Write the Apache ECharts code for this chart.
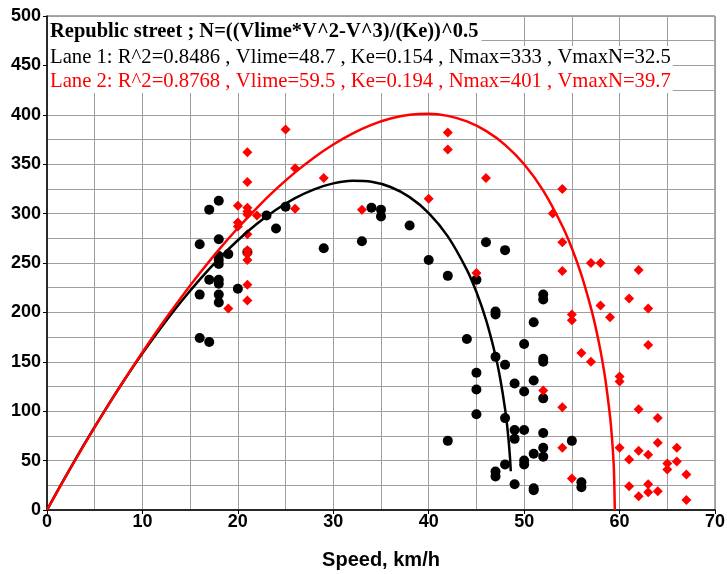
<!DOCTYPE html>
<html>
<head>
<meta charset="utf-8">
<script src="https://cdn.jsdelivr.net/npm/echarts@6/dist/echarts.min.js"></script>
<style>
html,body{margin:0;padding:0;background:#fff;}
#chart{width:727px;height:574px;}
</style>
</head>
<body>
<div id="chart"></div>
<script>
// ---- data ----
const titleLines = [
  'Republic street ; N=((Vlime*V^2-V^3)/(Ke))^0.5',
  'Lane 1: R^2=0.8486 , Vlime=48.7 , Ke=0.154 , Nmax=333 , VmaxN=32.5',
  'Lane 2: R^2=0.8768 , Vlime=59.5 , Ke=0.194 , Nmax=401 , VmaxN=39.7'
];
const xAxisTitle = 'Speed, km/h';

const lane1Speed = [16,16,16,17,17,17,18,18,18,18,18,18,18,18,18,19,20,21,23,24,25,29,33,34,35,35,38,40,42,42,44,45,45,45,45,46,47,47,47,47,47,48,48,48,48,49,49,49,49,50,50,50,50,50,51,51,51,51,51,52,52,52,52,52,52,52,52,55,56,56];
const lane1Flow  = [269,218,174,304,233,170,313,274,257,253,249,233,229,218,210,259,224,261,298,285,307,265,272,306,304,297,288,253,237,70,173,233,139,122,97,271,201,198,155,39,34,263,147,93,46,128,81,72,26,168,120,81,50,46,190,131,57,22,20,218,213,153,150,113,78,63,54,70,28,23];

const lane2Speed = [19,20,20,20,21,21,21,21,21,21,21,21,21,21,21,22,25,26,26,29,33,40,42,42,45,46,52,53,54,54,54,54,54,55,55,55,56,57,57,58,58,59,60,60,60,61,61,61,62,62,62,62,63,63,63,63,63,64,64,64,65,65,66,66,67,67];
const lane2Flow  = [204,308,291,287,362,332,306,302,299,279,263,259,253,228,212,298,385,346,305,336,304,315,382,365,240,336,121,300,325,271,242,104,63,198,192,32,159,250,150,250,207,195,135,130,63,214,51,24,243,102,60,14,204,167,56,26,18,93,68,19,47,41,63,49,36,10];

const fit1Speed = [0,1,2,4,6,8,10,12,14,16,18,20,22,24,26,28,30,32,34,36,38,40,42,44,45,46,47,47.5,48,48.3,48.5,48.6];
const fit1Flow  = [0,17.6,34.8,68.2,99.9,130.1,158.5,185.2,210.2,233.2,254.1,273.0,289.7,303.9,315.7,324.6,330.6,333.2,332.2,326.9,316.7,300.6,277.0,243.1,220.6,192.6,156.2,132.6,102.3,77.8,55.3,39.2];

const fit2Speed = [0,1,2,4,6,8,10,12,14,16,18,20,22,24,26,28,30,32,34,36,38,40,42,44,46,48,50,52,54,55,56,57,57.5,58,58.5,59,59.2,59.4,59.5];
const fit2Flow  = [0,17.3,34.4,67.7,99.6,130.3,159.7,187.8,214.4,239.6,263.3,285.4,305.9,324.7,341.7,356.8,369.9,381.0,389.8,396.2,400.0,401.0,398.9,393.3,383.7,369.6,349.9,323.3,287.5,264.9,237.9,204.6,184.6,161.3,132.8,94.7,73.6,42.6,0];

const xTicks = {min: 0, max: 70, step: 10};
const yTicks = {min: 0, max: 500, step: 50};

function pairs(xs, ys) { return xs.map((x, i) => [x, ys[i]]); }

const chart = echarts.init(document.getElementById('chart'), null, {renderer: 'canvas'});

const gridColor = '#9f9f9f';
const tickFont = {fontFamily: 'Liberation Sans, Arial, sans-serif', fontWeight: 'bold', fontSize: 18, color: '#000'};

chart.setOption({
  animation: false,
  backgroundColor: '#ffffff',
  title: [
    {text: titleLines[0], left: 48, top: 17, padding: [4, 3, 4, 2], backgroundColor: '#fff', z: 10,
     textStyle: {fontFamily: 'Liberation Serif, Times New Roman, serif', fontWeight: 'bold', fontSize: 20.5, lineHeight: 22, color: '#000'}},
    {text: titleLines[1], left: 48, top: 46, padding: [0, 2, 0, 2], backgroundColor: '#fff', z: 10,
     textStyle: {fontFamily: 'Liberation Serif, Times New Roman, serif', fontWeight: 'normal', fontSize: 20.7, lineHeight: 24, color: '#000'}},
    {text: titleLines[2], left: 48, top: 70, padding: [0, 2, 0, 2], backgroundColor: '#fff', z: 10,
     textStyle: {fontFamily: 'Liberation Serif, Times New Roman, serif', fontWeight: 'normal', fontSize: 20.7, lineHeight: 23, color: '#ff0000'}}
  ],
  grid: {left: 47, right: 12, top: 16, bottom: 64, show: true, borderColor: '#555', borderWidth: 1, outerBoundsMode: 'none', containLabel: false},
  xAxis: {
    type: 'value', min: xTicks.min, max: xTicks.max, interval: xTicks.step,
    name: xAxisTitle, nameLocation: 'middle', nameGap: 40,
    nameTextStyle: {fontFamily: 'Liberation Sans, Arial, sans-serif', fontWeight: 'bold', fontSize: 20, color: '#000'},
    axisLine: {show: true, onZero: false, lineStyle: {color: '#000', width: 1.5}},
    axisTick: {show: true, length: 4, lineStyle: {color: '#000'}},
    axisLabel: Object.assign({margin: 3}, tickFont),
    splitLine: {show: true, lineStyle: {color: gridColor, width: 1}},
    minorTick: {show: false, splitNumber: 2},
    minorSplitLine: {show: true, lineStyle: {color: gridColor, width: 1}}
  },
  yAxis: {
    type: 'value', min: yTicks.min, max: yTicks.max, interval: yTicks.step,
    axisLine: {show: true, onZero: false, lineStyle: {color: '#000', width: 1.5}},
    axisTick: {show: true, length: 4, lineStyle: {color: '#000'}},
    axisLabel: Object.assign({margin: 6}, tickFont),
    splitLine: {show: true, lineStyle: {color: gridColor, width: 1}},
    minorTick: {show: false, splitNumber: 2},
    minorSplitLine: {show: true, lineStyle: {color: gridColor, width: 1}}
  },
  series: [
    {name: 'Lane 1', type: 'scatter', data: pairs(lane1Speed, lane1Flow), symbol: 'circle', symbolSize: 10,
     itemStyle: {color: '#000', opacity: 1}, z: 3},
    {name: 'Lane 2', type: 'scatter', data: pairs(lane2Speed, lane2Flow), symbol: 'diamond', symbolSize: 10,
     itemStyle: {color: '#ff0000', opacity: 1}, z: 3},
    {name: 'Fit 1', type: 'line', data: pairs(fit1Speed, fit1Flow), showSymbol: false, smooth: 0.3,
     lineStyle: {color: '#000', width: 2.5}, z: 4},
    {name: 'Fit 2', type: 'line', data: pairs(fit2Speed, fit2Flow), showSymbol: false, smooth: 0.3,
     lineStyle: {color: '#ff0000', width: 2.5}, z: 4}
  ]
});
</script>
</body>
</html>
